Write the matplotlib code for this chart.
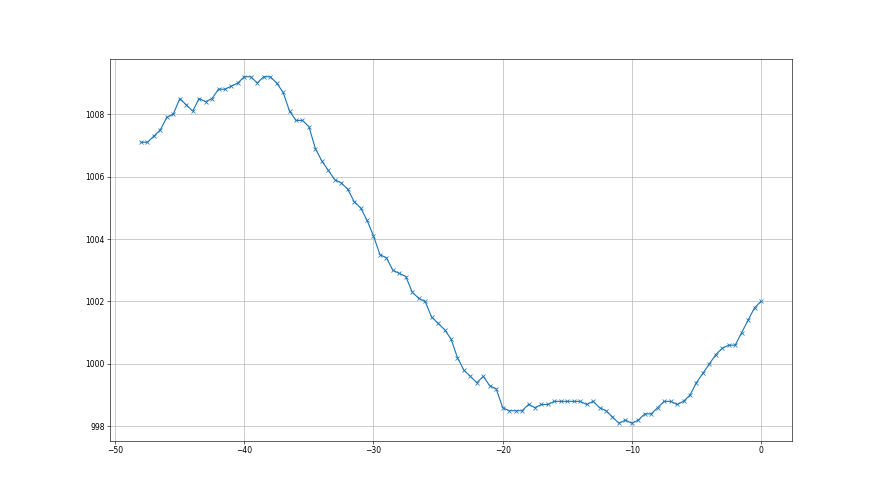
import numpy as np
import matplotlib
matplotlib.use('Agg')
import matplotlib.pyplot as plt

# hours before now, half-hour steps
horas = np.arange(-48, 0.5, 0.5)

pressao = [
    1007.1, 1007.1, 1007.3, 1007.5, 1007.9, 1008.0, 1008.5, 1008.3, 1008.1, 1008.5,
    1008.4, 1008.5, 1008.8, 1008.8, 1008.9, 1009.0, 1009.2, 1009.2, 1009.0, 1009.2,
    1009.2, 1009.0, 1008.7, 1008.1, 1007.8, 1007.8, 1007.6, 1006.9, 1006.5, 1006.2,
    1005.9, 1005.8, 1005.6, 1005.2, 1005.0, 1004.6, 1004.1, 1003.5, 1003.4, 1003.0,
    1002.9, 1002.8, 1002.3, 1002.1, 1002.0, 1001.5, 1001.3, 1001.1, 1000.8, 1000.2,
    999.8, 999.6, 999.4, 999.6, 999.3, 999.2, 998.6, 998.5, 998.5, 998.5,
    998.7, 998.6, 998.7, 998.7, 998.8, 998.8, 998.8, 998.8, 998.8, 998.7,
    998.8, 998.6, 998.5, 998.3, 998.1, 998.2, 998.1, 998.2, 998.4, 998.4,
    998.6, 998.8, 998.8, 998.7, 998.8, 999.0, 999.4, 999.7, 1000.0, 1000.3,
    1000.5, 1000.6, 1000.6, 1001.0, 1001.4, 1001.8, 1002.0,
]

fig, ax = plt.subplots(figsize=(16, 9), dpi=55)
ax.plot(horas, pressao, marker='x', color='C0')
ax.grid(True)
fig.savefig('out.png', dpi=55)
